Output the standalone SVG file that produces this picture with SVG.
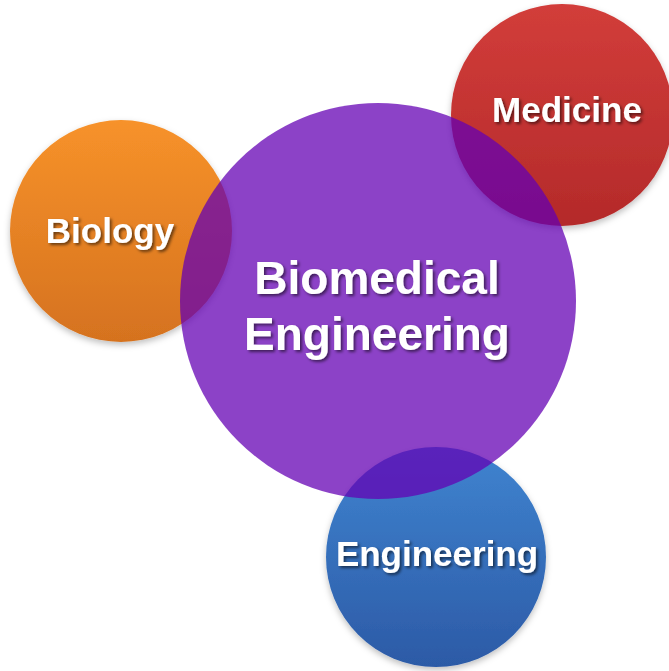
<svg xmlns="http://www.w3.org/2000/svg" width="669" height="671" viewBox="0 0 669 671">
<defs>
<linearGradient id="gOrange" x1="0" y1="0" x2="0" y2="1"><stop offset="0" stop-color="#f7922a"/><stop offset="1" stop-color="#d5721f"/></linearGradient>
<linearGradient id="gRed" x1="0" y1="0" x2="0" y2="1"><stop offset="0" stop-color="#d23d3a"/><stop offset="1" stop-color="#b42a2a"/></linearGradient>
<linearGradient id="gBlue" x1="0" y1="0" x2="0" y2="1"><stop offset="0" stop-color="#3f84d0"/><stop offset="1" stop-color="#2c5aa6"/></linearGradient>
<filter id="sh" x="-20%" y="-20%" width="140%" height="140%"><feDropShadow dx="0" dy="3" stdDeviation="3" flood-color="#000" flood-opacity="0.25"/></filter>
<filter id="tsh" x="-10%" y="-20%" width="120%" height="150%"><feDropShadow dx="2" dy="2" stdDeviation="1.5" flood-color="#000" flood-opacity="0.55"/></filter>
</defs>
<style>
text{font-family:"Liberation Sans",Arial,sans-serif;font-weight:bold;fill:#ffffff;text-anchor:middle;filter:url(#tsh)}
.s{font-size:35px}
.b{font-size:46px}
</style>
<rect width="669" height="671" fill="#ffffff"/>
<g id="biology"><circle cx="121" cy="231" r="111" fill="url(#gOrange)" filter="url(#sh)"/><text class="s" x="110" y="243">Biology</text></g>
<g id="medicine"><circle cx="562" cy="115" r="111" fill="url(#gRed)" filter="url(#sh)"/><text class="s" x="567" y="122">Medicine</text></g>
<g id="engineering"><circle cx="436" cy="557" r="110" fill="url(#gBlue)" filter="url(#sh)"/><text class="s" x="437" y="566">Engineering</text></g>
<g id="biomedical"><circle cx="378" cy="301" r="198" fill="#6400b4" fill-opacity="0.74"/><text class="b" x="377" y="294">Biomedical</text><text class="b" x="377" y="350">Engineering</text></g>
<g id="connectors"/>
</svg>
